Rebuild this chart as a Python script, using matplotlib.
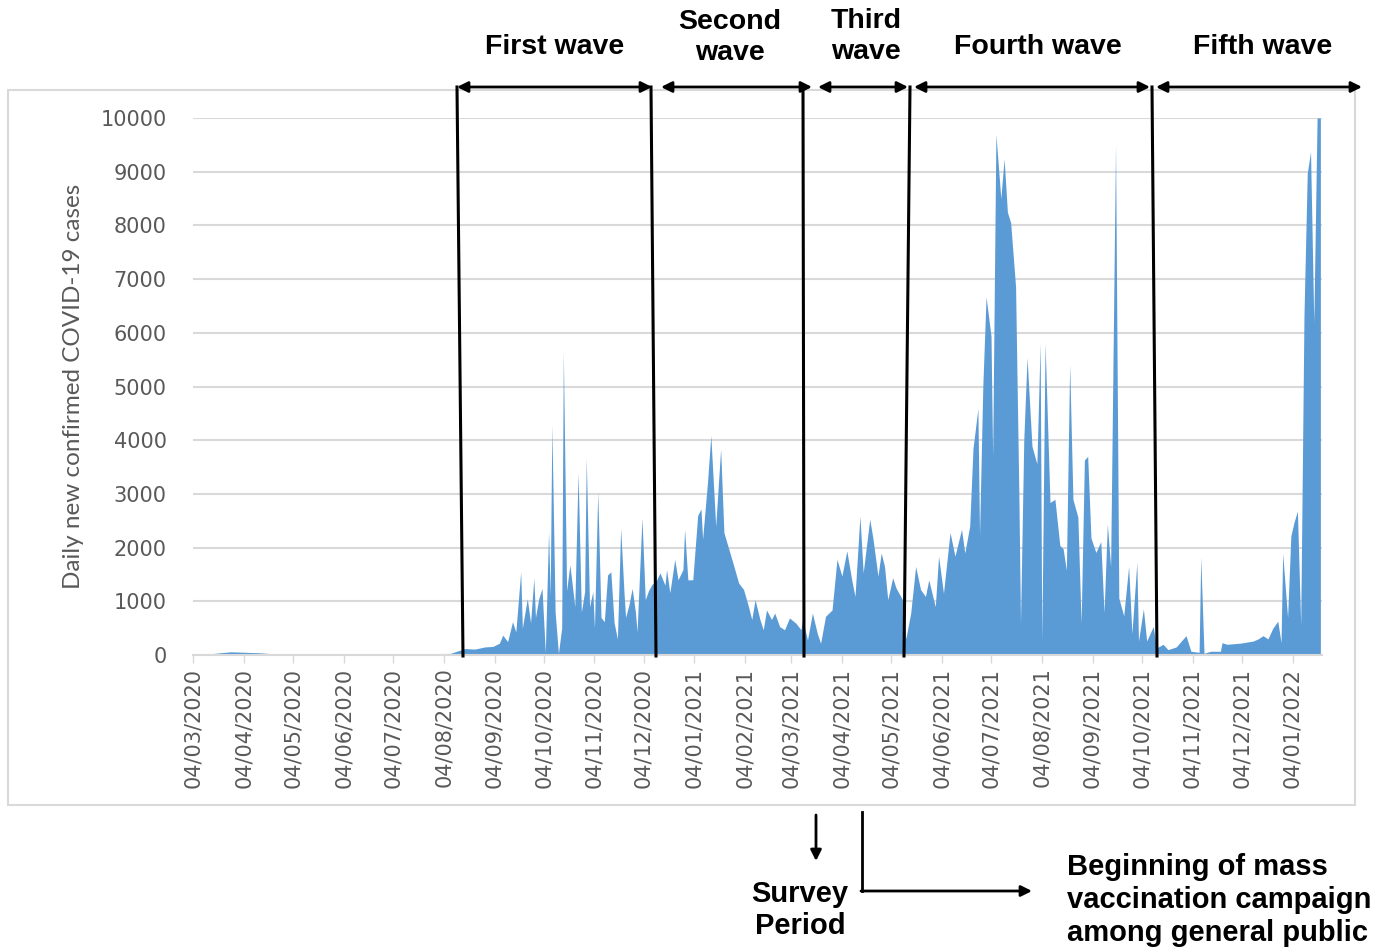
import pandas as pd
import matplotlib.pyplot as plt
from matplotlib.patches import Rectangle

# daily new confirmed cases (days since 04/03/2020)
start_date = '2020-03-04'
day = [0, 7, 13, 23, 32, 41, 50, 65, 90, 114, 139, 157, 162, 166, 172, 178, 183, 187,
       189, 192, 195, 197, 200, 201, 204, 206, 208, 209, 211, 213, 215, 217, 218, 219,
       221, 223, 225, 226, 228, 230, 233, 235, 237, 239, 240, 242, 244, 245, 247, 249,
       251, 253, 255, 257, 259, 261, 263, 264, 266, 268, 270, 271, 274, 276, 278, 280,
       283, 285, 288, 289, 291, 294, 296, 299, 300, 302, 305, 308, 310, 311, 314, 316,
       319, 322, 324, 327, 330, 333, 336, 339, 341, 343, 346, 348, 350, 353, 355, 358,
       361, 364, 368, 371, 372, 375, 378, 381, 383, 386, 390, 393, 396, 399, 402, 404,
       407, 409, 413, 415, 418, 420, 422, 424, 427, 429, 433, 435, 438, 441, 444, 447,
       449, 453, 455, 458, 462, 465, 469, 471, 474, 476, 479, 480, 482, 484, 487, 488,
       490, 493, 495, 497, 499, 502, 504, 505, 507, 509, 512, 515, 517, 518, 520, 523,
       526, 529, 531, 533, 535, 537, 540, 542, 544, 546, 548, 551, 554, 556, 558, 560,
       563, 565, 568, 571, 573, 576, 577, 580, 582, 586, 588, 592, 595, 600, 606, 609,
       614, 615, 617, 621, 627, 628, 631, 639, 647, 650, 653, 656, 659, 662, 664, 665,
       668, 670, 672, 674, 676, 678, 680, 682, 684, 686, 688]
cases = [0, 10, 30, 60, 50, 40, 20, 15, 10, 15, 20, 30, 80, 120, 110, 150, 160, 220,
         370, 250, 620, 430, 1550, 500, 1050, 600, 1430, 700, 1050, 1240, 50, 2300, 1100, 4290,
         800, 30, 500, 5650, 1200, 1680, 900, 3400, 800, 1180, 3670, 900, 1180, 500, 3040, 700,
         620, 1490, 1550, 600, 300, 2360, 1180, 700, 930, 1240, 800, 430, 2550, 1030, 1200, 1310,
         1400, 1530, 1300, 1590, 1160, 1780, 1400, 1590, 2340, 1400, 1400, 2600, 2720, 2160, 3220, 4090,
         2400, 3840, 2280, 1970, 1660, 1340, 1220, 900, 660, 1030, 660, 470, 840, 660, 780, 530,
         470, 690, 590, 470, 660, 280, 780, 400, 220, 720, 840, 1780, 1470, 1940, 1400, 1090,
         2590, 1530, 2530, 2160, 1470, 1900, 1650, 1030, 1440, 1250, 1030, 300, 780, 1650, 1220, 1090,
         1400, 900, 1840, 1150, 2280, 1840, 2340, 1900, 2400, 3840, 4590, 2240, 5000, 6670, 5940, 3700,
         9700, 8500, 9240, 8250, 8050, 6860, 3000, 600, 4000, 5540, 3890, 3560, 5810, 260, 5810, 2840,
         2900, 2040, 1980, 1580, 5410, 2900, 2570, 590, 3630, 3700, 2180, 1910, 2110, 790, 2440, 1650,
         9500, 1060, 730, 1650, 400, 1720, 260, 860, 260, 530, 130, 200, 100, 150, 360, 70,
         50, 1820, 30, 70, 70, 230, 200, 220, 260, 300, 360, 300, 500, 630, 230, 1890,
         700, 2220, 2480, 2680, 560, 6320, 8970, 9370, 6190, 10000, 10000]

y_ticks = [0, 1000, 2000, 3000, 4000, 5000, 6000, 7000, 8000, 9000, 10000]
month_ticks = pd.date_range('2020-03-04', '2022-01-04', freq=pd.DateOffset(months=1))

waves = ['First wave', 'Second\nwave', 'Third\nwave', 'Fourth wave', 'Fifth wave']

W, H = 1389, 947
fig = plt.figure(figsize=(W / 100, H / 100), dpi=100)
fig.patch.set_facecolor('white')

dates = pd.Timestamp(start_date) + pd.to_timedelta(day, unit='D')

ax = fig.add_axes([193 / W, 1 - 655 / H, (1322 - 193) / W, (655 - 118) / H])
ax.fill_between(dates, cases, 0, color='#5B9BD5', linewidth=0)
ax.set_ylim(0, 10000)
ax.set_xlim(pd.Timestamp(start_date), pd.Timestamp(start_date) + pd.Timedelta(days=689))
ax.set_yticks(y_ticks)
ax.set_yticklabels([str(v) for v in y_ticks], fontsize=15, color='#595959', family='DejaVu Sans')
ax.set_xticks(month_ticks)
ax.set_xticklabels([d.strftime('%d/%m/%Y') for d in month_ticks], rotation=90,
                   fontsize=15, color='#595959', family='DejaVu Sans')
ax.tick_params(axis='y', length=0, pad=19)
ax.tick_params(axis='x', length=6, width=1, color='#D9D9D9', pad=3, direction='out')
ax.grid(axis='y', color='#D9D9D9', linewidth=1.5)
ax.set_axisbelow(True)
for s in ['top', 'right', 'left']:
    ax.spines[s].set_visible(False)
ax.spines['bottom'].set_color('#D9D9D9')
ax.spines['bottom'].set_linewidth(1.5)
ax.set_ylabel('Daily new confirmed COVID-19 cases', fontsize=17.5, color='#595959',
              family='Lato', labelpad=12)

# overlay in pixel coordinates for the annotations
ov = fig.add_axes([0, 0, 1, 1], zorder=5)
ov.set_xlim(0, W)
ov.set_ylim(H, 0)
ov.axis('off')
ov.patch.set_alpha(0)

# chart border
ov.add_patch(Rectangle((8, 90), 1347, 715, fill=False, edgecolor='#D9D9D9', linewidth=1.5))

# wave separators
sep = [(457, 463), (651, 656), (803, 804), (910, 904), (1152, 1157)]
for top, bot in sep:
    ov.plot([top, bot], [87, 656], color='black', linewidth=2.2)

spans = [(457, 652), (661, 812), (818, 908), (914, 1150), (1156, 1362)]
for (x1, x2) in spans:
    ov.annotate('', xy=(x2, 87), xytext=(x1, 87),
                arrowprops=dict(arrowstyle='<|-|>', color='black', lw=2,
                                mutation_scale=16, shrinkA=0, shrinkB=0))

label_x = [555, 730, 866, 1038, 1263]
label_y = [47, 37, 36, 47, 47]
for txt, lx, ly in zip(waves, label_x, label_y):
    ov.text(lx, ly, txt, ha='center', va='center', fontsize=20.5, fontweight='bold',
            family='Liberation Sans', linespacing=1.25)

# survey period
ov.annotate('', xy=(816, 861), xytext=(816, 815),
            arrowprops=dict(arrowstyle='-|>', color='black', lw=2, mutation_scale=16,
                            shrinkA=0, shrinkB=0))
ov.text(800, 910, 'Survey\nPeriod', ha='center', va='center', fontsize=21,
        fontweight='bold', family='Liberation Sans', linespacing=1.15)

# vaccination campaign
ov.plot([862, 862], [812, 891], color='black', linewidth=2)
ov.annotate('', xy=(1032, 891), xytext=(861, 891),
            arrowprops=dict(arrowstyle='-|>', color='black', lw=2, mutation_scale=16,
                            shrinkA=0, shrinkB=0))
ov.text(1067, 900, 'Beginning of mass\nvaccination campaign\namong general public',
        ha='left', va='center', fontsize=21, fontweight='bold', family='Liberation Sans',
        linespacing=1.22)

plt.savefig('out.png', dpi=100)
